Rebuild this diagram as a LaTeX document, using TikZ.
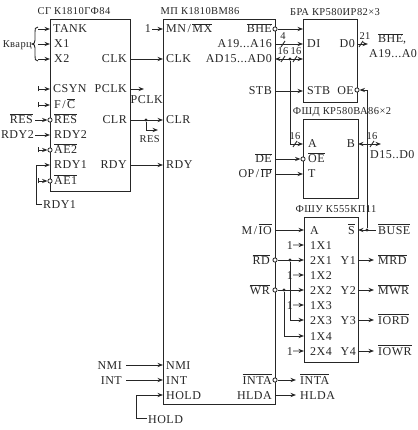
\documentclass[tikz,border=0pt]{standalone}
\usepackage{fontspec}
\setmainfont[LetterSpace=4]{Liberation Serif}
\usetikzlibrary{arrows.meta}
\newcommand\ol[1]{\leavevmode\vbox{\hrule height .6pt \kern 1pt \hbox{#1}}}
\newcommand\sla{\kern1.5pt/\kern1.5pt}
\newcommand\tl[4]{\node[txt,anchor=base west] (#1) at (#2,#3+4) {#4};}
\newcommand\tr[4]{\node[txt,anchor=base east] (#1) at (#2,#3+4) {#4};}
\newcommand\pin[3]{\coordinate (#1) at (#2,#3);}
\newcommand\inv[3]{\node[invc] (#1) at (#2,#3) {};}
\newcommand\jn[3]{\node[jdot] (#1) at (#2,#3) {};}
\newcommand\tick[2]{\draw[wire] (#1-2,#2+3) -- (#1+2,#2-3);}
\tikzset{
 wire/.style={line width=.9pt,draw=black!85},
 ar/.style={wire,-{Stealth[length=5.5pt,width=4.2pt]}},
 bar/.style={wire,{Bar[width=5pt]}-{Stealth[length=5.5pt,width=4.2pt]}},
 both/.style={wire,{Stealth[length=5.5pt,width=4.2pt]}-{Stealth[length=5.5pt,width=4.2pt]}},
 chip/.style={draw=black!85,line width=1.1pt,fill=white,inner sep=0pt},
 txt/.style={inner sep=0pt,font=\fontsize{12}{12}\selectfont,text=black!85},
 small/.style={inner sep=0pt,font=\fontsize{10.5}{10.5}\selectfont,text=black!85},
 invc/.style={circle,draw=black!85,line width=.8pt,fill=white,minimum size=4.2pt,inner sep=0pt},
 jdot/.style={circle,fill=black!85,minimum size=3.2pt,inner sep=0pt},
}
\begin{document}
\begin{tikzpicture}[x=1pt,y=-1pt]
\useasboundingbox (0,0) rectangle (417,430);
% chips
\node[chip,anchor=north west,minimum width=80pt,minimum height=172pt] (sg) at (50,19) {};
\node[chip,anchor=north west,minimum width=112pt,minimum height=385pt] (mp) at (163,19) {};
\node[chip,anchor=north west,minimum width=54pt,minimum height=83pt] (bra) at (303,19) {};
\node[chip,anchor=north west,minimum width=55pt,minimum height=79pt] (fsd) at (303,119) {};
\node[chip,anchor=north west,minimum width=54pt,minimum height=145pt] (fsu) at (304,217) {};
% titles
\node[small,anchor=base] (t1) at (74,15) {СГ К1810ГФ84};
\node[small,anchor=base] (t2) at (200,15) {МП К1810ВМ86};
\node[small,anchor=base] (t3) at (335,16) {БРА КР580ИР82×3};
\node[small,anchor=base] (t4) at (342,115) {ФШД КР580ВА86×2};
\node[small,anchor=base] (t5) at (336,212) {ФШУ К555КП11};
% SG pins
\tl{a1}{53}{29}{TANK}\tl{a2}{54}{44}{X1}\tl{a3}{54}{59}{X2}
\tl{a4}{53}{89}{CSYN}\tl{a5}{54}{105}{F\sla\ol{C}}\tl{a6}{54}{120}{\ol{RES}}
\tl{a7}{54}{135}{RDY2}\tl{a8}{54}{150}{\ol{AE2}}\tl{a9}{54}{165}{RDY1}\tl{a10}{54}{181}{\ol{AE1}}
\tr{b1}{127}{59}{CLK}\tr{b2}{127}{89}{PCLK}\tr{b3}{127}{120}{CLR}\tr{b4}{127}{165}{RDY}
% MP pins
\tl{c1}{166}{29}{MN\sla\ol{MX}}\tl{c2}{166}{59}{CLK}\tl{c3}{166}{120}{CLR}\tl{c4}{166}{165}{RDY}
\tl{c5}{166}{365}{NMI}\tl{c6}{166}{380}{INT}\tl{c7}{166}{395}{HOLD}
\tr{d1}{272}{29}{\ol{BHE}}\tr{d2}{272}{44}{A19...A16}\tr{d3}{272}{59}{AD15...AD0}
\tr{d4}{272}{91}{STB}\tr{d5}{272}{159}{\ol{DE}}\tr{d6}{272}{174}{OP\sla\ol{IP}}
\tr{d7}{272}{380}{\ol{INTA}}\tr{d8}{272}{395}{HLDA}
% BRA / FSD pins
\tl{e1}{307}{44}{DI}\tl{e2}{307}{91}{STB}\tr{e3}{355}{44}{D0}\tr{e4}{354}{91}{OE}
\tl{f1}{308}{144}{A}\tl{f2}{308}{159}{\ol{OE}}\tl{f3}{308}{174}{T}\tr{f4}{355}{144}{B}
% FSU pins
\tl{g0}{310}{230}{A}\tl{g1}{310}{245}{1X1}\tl{g2}{310}{260}{2X1}\tl{g3}{310}{275}{1X2}
\tl{g4}{310}{290}{2X2}\tl{g5}{310}{305}{1X3}\tl{g6}{310}{320}{2X3}\tl{g7}{310}{336}{1X4}\tl{g8}{310}{351}{2X4}
\tr{h0}{355}{230}{\ol{S}}\tr{h1}{356}{260}{Y1}\tr{h2}{356}{290}{Y2}\tr{h3}{356}{320}{Y3}\tr{h4}{356}{351}{Y4}
% outer labels
\tr{l1}{32}{44}{\fontsize{10.5}{10.5}\selectfont Кварц}
\tr{l2}{33}{120}{\ol{RES}}\tr{l3}{34}{135}{RDY2}
\tl{l4}{43}{204}{RDY1}\tl{l5}{148}{419}{HOLD}
\tr{l6}{163}{100}{PCLK}\tr{l7}{160}{139}{\fontsize{10.5}{10.5}\selectfont RES}
\tr{l8}{122}{365}{NMI}\tr{l9}{122}{380}{INT}
\tl{l10}{300}{380}{\ol{INTA}}\tl{l11}{300}{395}{HLDA}
\tr{l12}{272}{230}{M\sla\ol{IO}}\tr{l13}{270}{260}{\ol{RD}}\tr{l14}{270}{290}{\ol{WR}}
\tl{l15}{378}{230}{\ol{BUSE}}\tl{l16}{378}{260}{\ol{MRD}}\tl{l17}{378}{290}{\ol{MWR}}
\tl{l18}{378}{320}{\ol{IORD}}\tl{l19}{378}{351}{\ol{IOWR}}
\tl{l20}{378}{39}{\ol{BHE},}\tl{l21}{369}{54}{A19...A0}
\tl{l22}{370}{155}{D15..D0}
% pin coordinates
\foreach \n/\y in {x1/29,x2/44,x3/59,x4/89,x5/105,x7/135,x9/165}{\coordinate (sg\n) at (50,\y);}
\foreach \n/\y in {o1/59,o2/89,o3/120,o4/165}{\coordinate (sg\n) at (130,\y);}
\foreach \n/\y in {i0/29,i1/59,i3/120,i4/165,i5/365,i6/380,i7/395}{\coordinate (mp\n) at (163,\y);}
\foreach \n/\y in {o2/44,o3/59,o4/91,o5/159,o6/174,o8/395,m/230}{\coordinate (mp\n) at (275,\y);}
\foreach \n/\y in {a/29,b/44,c/59,d/91}{\coordinate (bra\n) at (303,\y);}
\coordinate (brao) at (357,44);
\coordinate (fa) at (303,144); \coordinate (ft) at (303,174); \coordinate (fb) at (358,144);
\foreach \n/\y in {a/230,b/245,c/260,d/275,e/290,f/305,g/320,h/336,i/351}{\coordinate (u\n) at (304,\y);}
\foreach \n/\y in {s/230,y/260,z/290,v/320,w/351}{\coordinate (r\n) at (358,\y);}
% inversion circles
\inv{n1}{50}{120}\inv{n2}{50}{150}\inv{n3}{50}{181}
\inv{n4}{275}{29}\inv{n5}{357}{90}\inv{n6}{303}{159}
\inv{n7}{275}{260}\inv{n8}{275}{290}\inv{n9}{275}{380}
% junctions
\jn{j1}{146}{120}\jn{j2}{290}{59}\jn{j3}{290}{260}\jn{j4}{284}{290}\jn{j5}{367}{230}
% free ends
\pin{q1}{38}{29}\pin{q2}{38}{44}\pin{q3}{38}{59}\pin{q4}{38}{89}\pin{q5}{38}{105}
\pin{q6}{38}{150}\pin{q7}{38}{181}\pin{q8}{144}{89}\pin{q9}{158}{130}
\pin{q10}{36}{165}\pin{q11}{36}{204}\pin{q12}{136}{395}\pin{q13}{136}{418}
\pin{q14}{296}{380}\pin{q15}{296}{395}\pin{q16}{368}{44}\pin{q17}{381}{144}
\pin{q18}{367}{90}\pin{q19}{290}{144}\pin{q20}{146}{130}\pin{q21}{290}{320}\pin{q22}{284}{336}
\pin{q23}{374}{260}\pin{q24}{374}{290}\pin{q25}{374}{320}\pin{q26}{374}{351}\pin{q27}{376}{230}
\pin{q28}{35}{120}\pin{q29}{42}{204}\pin{q30}{147}{418}\pin{q31}{35}{135}
\pin{q32}{152}{29}\pin{q33}{126}{365}\pin{q34}{126}{380}
% SG connections
\draw[ar] (q1) -- (sgx1); \draw[ar] (q2) -- (sgx2); \draw[ar] (q3) -- (sgx3);
\draw[bar] (q4) -- (sgx4); \draw[bar] (q5) -- (sgx5);
\draw[bar] (q6) -- (n2.west); \draw[bar] (q7) -- (n3.west);
\draw[ar] (q28) -- (n1.west);
\draw[ar] (q31) -- (sgx7);
\draw[ar] (q29) -- (q11) -- (q10) -- (sgx9);
\draw[wire] (38,27) .. controls (35,27) and (35,29) .. (35,32) -- (35,40) .. controls (35,43) and (34,44) .. (32,44)
  .. controls (34,44) and (35,45) .. (35,48) -- (35,56) .. controls (35,59) and (35,61) .. (38,61);
\draw[ar] (sgo1) -- (mpi1); \draw[ar] (sgo2) -- (q8); \draw[ar] (sgo3) -- (mpi3);
\draw[ar] (j1) -- (q20) -- (q9); \draw[ar] (sgo4) -- (mpi4);
% MP left
\node[txt,anchor=base east] (one1) at (151,33) {1};
\draw[ar] (q32) -- (mpi0);
\draw[ar] (q33) -- (mpi5); \draw[ar] (q34) -- (mpi6);
\draw[ar] (q30) -- (q13) -- (q12) -- (mpi7);
% MP right
\draw[ar] (n4.east) -- (braa);
\draw[ar] (mpo2) -- (brab); \tick{283}{44}
\node[small,anchor=base] (n4t) at (283,40) {4};
\draw[both] (mpo3) -- (brac); \tick{283}{59} \tick{295}{59}
\node[small,anchor=base] (n16a) at (283,55) {16};
\node[small,anchor=base] (n16b) at (296,55) {16};
\draw[ar] (j2) -- (q19) -- (fa); \tick{295}{144}
\node[small,anchor=base] (n16c) at (295,140) {16};
\draw[ar] (mpo4) -- (brad);
\draw[ar] (mpo5) -- (n6.west); \draw[ar] (mpo6) -- (ft);
\draw[ar] (brao) -- (q16); \tick{361}{44}
\node[small,anchor=base] (n21) at (365,40) {21};
\draw[both] (fb) -- (q17); \tick{372}{144}
\node[small,anchor=base] (n16d) at (372,140) {16};
\draw[ar] (n9.east) -- (q14); \draw[ar] (mpo8) -- (q15);
% OE / S
\draw[ar] (j5) -- (q18) -- (n5.east);
\draw[ar] (q27) -- (rs);
% FSU inputs
\draw[ar] (mpm) -- (ua);
\draw[ar] (n7.east) -- (uc); \draw[ar] (n8.east) -- (ue);
\draw[ar] (j3) -- (q21) -- (ug);
\draw[ar] (j4) -- (q22) -- (uh);
\foreach \c/\y/\x in {b/245/293,d/275/293,f/305/293,i/351/293}{
  \node[txt,anchor=base east] (one\c) at (\x,\y+4) {1};
  \draw[ar] (one\c.east) -- (u\c);
}
% FSU outputs
\draw[ar] (ry) -- (q23); \draw[ar] (rz) -- (q24); \draw[ar] (rv) -- (q25); \draw[ar] (rw) -- (q26);
\end{tikzpicture}
\end{document}
